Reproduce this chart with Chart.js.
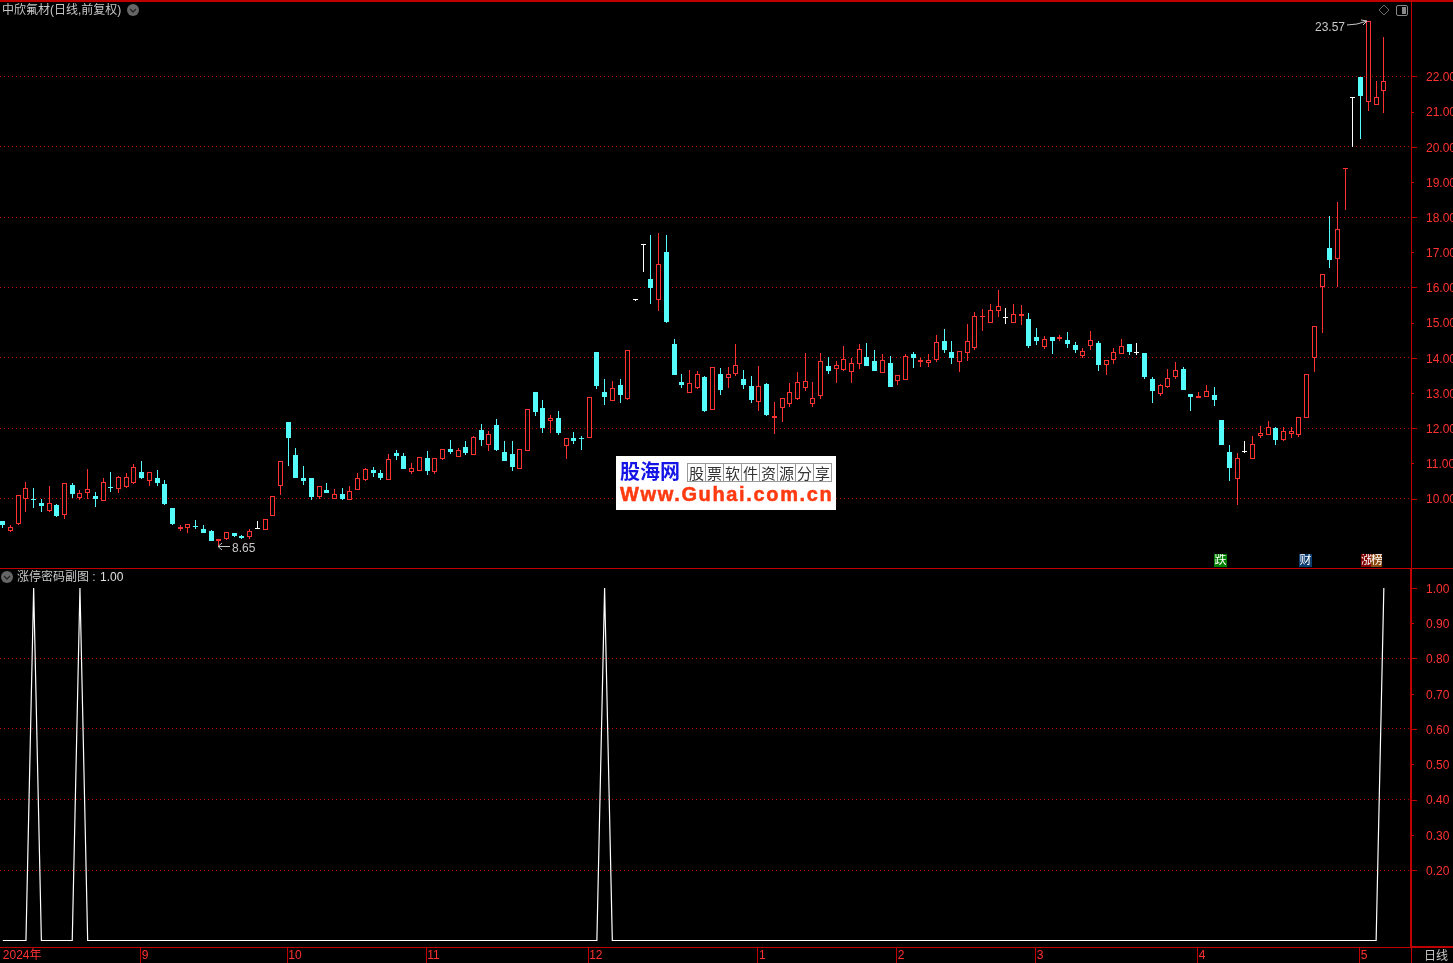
<!DOCTYPE html>
<html lang="zh">
<head>
<meta charset="UTF-8" />
<title>中欣氟材</title>
<script src="https://cdn.jsdelivr.net/npm/chart.js"></script>
<style>
  html, body { margin: 0; background: #000; overflow: hidden; }
  body { width: 1453px; height: 963px; position: relative; font: 12px "Liberation Sans", "Noto Sans CJK SC", sans-serif; color: #c8c8c8; }
  canvas { position: absolute; left: 0; }
  #priceChart { top: 0; }
  #subChart { top: 568px; }
  .line { position: absolute; background: #c00000; }
  .txt { position: absolute; white-space: nowrap; line-height: 14px; }
  .tag { position: absolute; top: 554px; height: 13px; line-height: 13px; width: 13px; font-size: 12px; text-align: center; color: #fff; overflow: hidden; }
  #logo { position: absolute; left: 616px; top: 456px; width: 220px; height: 54px; background: #fff; overflow: hidden; }
  #logo b { position: absolute; white-space: nowrap; }
  #logoName { left: 4px; top: 3px; font: bold 20px/24px "Noto Sans CJK SC"; color: #1414e6; }
  #logoSite { left: 4px; top: 26px; font: bold 20px/24px "Liberation Sans"; letter-spacing: 1.65px; color: #ff3a10; -webkit-text-stroke: 0.5px #ff3a10; }
  #logoCells { position: absolute; left: 71px; top: 7px; border-left: 1px solid #999; display: flex; }
  #logoCells span { width: 17px; height: 17px; line-height: 17px; border: 1px solid #999; border-left: 0; text-align: center; font: 15px/17px "Noto Sans CJK SC"; color: #333; }
</style>
</head>
<body>
<canvas id="priceChart" width="1453" height="568"></canvas>
<canvas id="subChart" width="1453" height="395"></canvas>

<!-- 框线 -->
<div class="line" style="left:0;top:0;width:1453px;height:2px"></div>
<div class="line" style="left:0;top:568px;width:1453px;height:1px"></div>
<div class="line" style="left:1411px;top:947px;width:1px;height:16px"></div>
<div class="line" style="left:1411px;top:946px;width:42px;height:2px"></div>

<!-- 标题 -->
<div class="txt" style="left:2px;top:3px">中欣氟材(日线,前复权)</div>
<div class="txt" style="left:17px;top:570px">涨停密码副图 : <span style="color:#e0e0e0;margin-left:1px">1.00</span></div>
<div class="txt" style="left:1424px;top:949px">日线</div>
<div class="txt" style="left:1315px;top:20px">23.57</div>
<div class="txt" style="left:232px;top:541px">8.65</div>

<!-- 小图标和箭头 -->
<svg width="1453" height="963" style="position:absolute;left:0;top:0">
  <circle cx="133" cy="10" r="6" fill="#666" />
  <path d="M130 9 L133 12 L136 9" stroke="#222" stroke-width="1.3" fill="none" />
  <circle cx="7" cy="577" r="6" fill="#666" />
  <path d="M4 576 L7 579 L10 576" stroke="#222" stroke-width="1.3" fill="none" />
  <path d="M1384 5 L1389 10 L1384 15 L1379 10 Z" stroke="#666" fill="none" />
  <rect x="1396.5" y="5.5" width="11" height="10" rx="1.5" stroke="#888" fill="none" />
  <rect x="1402" y="7" width="4" height="7" fill="#888" />
  <path d="M1347 25 L1357 24 L1367 21 M1361 20 L1367 21 L1363 25" stroke="#c8c8c8" fill="none" />
  <path d="M230 546.5 L218 546.5 M222 543 L218 546.5 L222 550" stroke="#c8c8c8" fill="none" />
</svg>

<!-- 信息标记 -->
<div class="tag" style="left:1214px;background:#008000">跌</div>
<div class="tag" style="left:1299px;background:#0c3c70">财</div>
<div class="tag" style="left:1361px;width:10px;background:#800000">涨</div>
<div class="tag" style="left:1371px;width:11px;background:#8a4a10">榜</div>

<!-- 水印 -->
<div id="logo">
  <b id="logoName">股海网</b>
  <div id="logoCells"><span>股</span><span>票</span><span>软</span><span>件</span><span>资</span><span>源</span><span>分</span><span>享</span></div>
  <b id="logoSite">Www.Guhai.com.cn</b>
</div>

<script>
  // 日K数据
  const opens = [
    9.36, 9.09, 9.28, 10.00, 9.99, 9.87, 9.65, 9.81, 9.53, 10.38,
    10.01, 10.17, 10.07, 9.94, 10.33, 10.28, 10.33, 10.45, 10.75, 10.50,
    10.58, 10.41, 9.73, 9.13, 9.17, 9.22, 9.13, 9.08, 8.79, 8.85,
    9.01, 8.93, 8.90, 9.14, 9.11, 9.51, 10.36, 12.17, 11.24, 10.58,
    10.58, 10.04, 10.24, 10.00, 10.13, 9.96, 10.25, 10.52, 10.81, 10.72,
    10.53, 11.29, 11.21, 10.75, 10.79, 11.15, 10.75, 11.12, 11.41, 11.18,
    11.46, 11.24, 11.95, 11.52, 12.09, 11.32, 11.26, 10.84, 11.35, 13.03,
    12.57, 12.20, 12.29, 11.49, 11.72, 11.72, 11.73, 14.16, 13.03, 12.78,
    13.23, 12.84, 15.63, 17.20, 16.23, 15.65, 17.01, 14.39, 13.31, 13.01,
    13.15, 13.45, 12.53, 13.54, 13.44, 13.55, 13.40, 13.20, 12.75, 13.25,
    12.30, 12.58, 12.70, 12.83, 13.15, 12.70, 12.92, 13.77, 13.69, 13.65,
    13.60, 13.83, 14.02, 13.91, 13.58, 13.85, 13.34, 13.37, 14.11, 13.88,
    13.85, 13.94, 14.48, 14.17, 13.88, 14.14, 14.28, 15.16, 14.99, 15.34,
    15.12, 14.99, 15.20, 15.10, 14.59, 14.31, 14.59, 14.53, 14.51, 14.36,
    14.05, 14.34, 14.42, 13.81, 13.95, 14.12, 14.39, 14.13, 14.14, 13.40,
    12.97, 13.17, 13.45, 13.68, 12.97, 12.87, 12.89, 12.94, 12.23, 11.32,
    10.55, 11.31, 11.13, 11.79, 11.81, 12.00, 11.66, 11.84, 11.81, 12.30,
    13.99, 16.00, 17.12, 16.80, 19.36, 21.38, 21.98, 21.26, 21.19, 21.59
  ];
  const highs = [
    9.36, 9.25, 10.09, 10.47, 10.30, 9.99, 10.35, 9.84, 10.43, 10.44,
    10.24, 10.84, 10.18, 10.58, 10.75, 10.63, 10.72, 10.98, 11.07, 10.75,
    10.81, 10.53, 9.73, 9.25, 9.27, 9.39, 9.25, 9.10, 8.84, 9.04,
    9.01, 8.96, 9.13, 9.36, 9.41, 10.06, 11.06, 12.17, 11.44, 10.92,
    10.58, 10.35, 10.44, 10.27, 10.30, 10.35, 10.72, 10.86, 10.90, 10.81,
    11.26, 11.38, 11.29, 11.01, 11.18, 11.35, 11.15, 11.40, 11.66, 11.44,
    11.63, 11.78, 12.12, 11.92, 12.26, 11.63, 11.63, 11.41, 12.54, 13.03,
    12.80, 12.37, 12.49, 11.71, 11.89, 11.78, 12.88, 14.16, 13.40, 13.34,
    13.40, 14.21, 15.63, 17.20, 17.49, 17.55, 17.49, 14.53, 13.54, 13.65,
    13.62, 13.48, 13.73, 13.71, 13.74, 14.39, 13.65, 13.48, 13.77, 13.28,
    12.74, 12.85, 13.28, 13.60, 14.14, 13.31, 14.14, 14.02, 13.91, 14.34,
    13.99, 14.39, 14.42, 14.22, 14.11, 14.05, 13.51, 14.11, 14.17, 13.99,
    14.11, 14.65, 14.82, 14.48, 14.19, 14.96, 15.30, 15.39, 15.53, 15.93,
    15.42, 15.53, 15.50, 15.27, 14.85, 14.62, 14.59, 14.65, 14.73, 14.45,
    14.28, 14.76, 14.48, 13.93, 14.28, 14.53, 14.39, 14.42, 14.14, 13.45,
    13.26, 13.68, 13.88, 13.74, 12.97, 13.03, 13.23, 13.17, 12.23, 11.52,
    11.29, 11.63, 11.78, 12.06, 12.20, 12.03, 12.03, 12.03, 12.31, 13.53,
    14.90, 16.37, 18.03, 18.43, 19.41, 21.38, 21.98, 23.57, 21.87, 23.12
  ];
  const lows = [
    9.16, 9.05, 9.26, 9.62, 9.73, 9.62, 9.62, 9.47, 9.42, 10.01,
    9.96, 9.99, 9.76, 9.94, 10.18, 10.16, 10.30, 10.41, 10.55, 10.35,
    10.35, 9.81, 9.25, 9.08, 9.02, 9.13, 9.02, 8.79, 8.65, 8.82,
    8.90, 8.85, 8.85, 9.13, 9.11, 9.51, 10.10, 10.92, 10.58, 10.38,
    9.95, 9.99, 10.16, 10.00, 9.96, 9.96, 10.25, 10.50, 10.61, 10.52,
    10.53, 11.09, 10.84, 10.70, 10.79, 10.67, 10.70, 11.09, 11.26, 11.18,
    11.24, 11.24, 11.49, 11.35, 11.35, 11.07, 10.78, 10.84, 11.35, 12.35,
    11.86, 11.86, 11.80, 11.12, 11.55, 11.38, 11.73, 13.11, 12.66, 12.78,
    12.72, 12.81, 15.63, 16.44, 15.53, 15.33, 14.99, 13.51, 13.14, 13.01,
    13.11, 12.46, 12.53, 12.94, 13.14, 13.48, 13.11, 12.72, 12.49, 12.35,
    11.83, 12.18, 12.60, 12.80, 13.06, 12.60, 12.83, 13.54, 13.28, 13.62,
    13.28, 13.68, 13.77, 13.63, 13.58, 13.17, 13.23, 13.37, 13.71, 13.74,
    13.74, 13.88, 14.14, 13.82, 13.60, 13.91, 14.22, 14.76, 14.99, 15.16,
    14.96, 14.99, 14.93, 14.28, 14.36, 14.25, 14.11, 14.48, 14.28, 14.14,
    13.99, 14.22, 13.63, 13.51, 13.82, 14.12, 14.08, 14.08, 13.40, 12.72,
    12.91, 13.14, 13.40, 13.08, 12.49, 12.87, 12.89, 12.63, 11.52, 10.50,
    9.81, 11.29, 11.13, 11.72, 11.81, 11.52, 11.63, 11.72, 11.75, 12.30,
    13.60, 14.71, 16.55, 16.00, 18.20, 19.99, 20.22, 21.02, 21.19, 20.96
  ];
  const closes = [
    9.25, 9.18, 10.09, 10.29, 9.96, 9.79, 9.86, 9.50, 10.43, 10.13,
    10.17, 10.26, 9.99, 10.46, 10.30, 10.60, 10.60, 10.89, 10.58, 10.74,
    10.44, 9.84, 9.27, 9.19, 9.27, 9.19, 9.02, 8.79, 8.84, 9.04,
    8.93, 8.88, 9.09, 9.14, 9.41, 10.06, 11.06, 11.73, 10.58, 10.50,
    10.04, 10.35, 10.16, 10.13, 9.99, 10.20, 10.57, 10.83, 10.72, 10.58,
    11.12, 11.21, 10.84, 10.87, 11.18, 10.78, 11.15, 11.40, 11.32, 11.38,
    11.29, 11.75, 11.66, 11.83, 11.38, 11.07, 10.90, 11.41, 12.54, 12.46,
    12.00, 12.29, 11.86, 11.71, 11.63, 11.69, 12.88, 13.20, 12.89, 13.13,
    12.94, 14.21, 15.63, 17.20, 15.98, 16.66, 15.02, 13.51, 13.23, 13.27,
    13.53, 12.49, 13.73, 13.08, 13.53, 13.81, 13.23, 12.80, 13.19, 12.37,
    12.36, 12.85, 13.02, 13.30, 13.33, 12.85, 13.90, 13.63, 13.81, 13.98,
    13.84, 14.24, 13.77, 13.63, 13.94, 13.17, 13.51, 14.05, 13.99, 13.94,
    13.94, 14.45, 14.22, 13.99, 14.19, 14.48, 15.19, 15.18, 15.35, 15.46,
    15.12, 15.26, 15.26, 14.34, 14.48, 14.53, 14.48, 14.59, 14.39, 14.22,
    14.18, 14.50, 13.80, 13.93, 14.16, 14.33, 14.17, 14.13, 13.45, 13.06,
    13.22, 13.44, 13.64, 13.08, 12.89, 12.91, 13.07, 12.80, 11.52, 10.87,
    11.14, 11.31, 11.54, 11.85, 12.02, 11.66, 11.91, 11.91, 12.31, 13.53,
    14.90, 16.37, 16.79, 17.65, 19.41, 21.38, 21.44, 23.57, 21.43, 21.86
  ];

  // 副图信号
  const signal = [
    0, 0, 0, 0, 1, 0, 0, 0, 0, 0,
    1, 0, 0, 0, 0, 0, 0, 0, 0, 0,
    0, 0, 0, 0, 0, 0, 0, 0, 0, 0,
    0, 0, 0, 0, 0, 0, 0, 0, 0, 0,
    0, 0, 0, 0, 0, 0, 0, 0, 0, 0,
    0, 0, 0, 0, 0, 0, 0, 0, 0, 0,
    0, 0, 0, 0, 0, 0, 0, 0, 0, 0,
    0, 0, 0, 0, 0, 0, 0, 0, 1, 0,
    0, 0, 0, 0, 0, 0, 0, 0, 0, 0,
    0, 0, 0, 0, 0, 0, 0, 0, 0, 0,
    0, 0, 0, 0, 0, 0, 0, 0, 0, 0,
    0, 0, 0, 0, 0, 0, 0, 0, 0, 0,
    0, 0, 0, 0, 0, 0, 0, 0, 0, 0,
    0, 0, 0, 0, 0, 0, 0, 0, 0, 0,
    0, 0, 0, 0, 0, 0, 0, 0, 0, 0,
    0, 0, 0, 0, 0, 0, 0, 0, 0, 0,
    0, 0, 0, 0, 0, 0, 0, 0, 0, 0,
    0, 0, 0, 0, 0, 0, 0, 0, 0, 1
  ];

  // 坐标刻度
  const priceTicks = [10, 11, 12, 13, 14, 15, 16, 17, 18, 19, 20, 21, 22];
  const subTicks = [0.2, 0.3, 0.4, 0.5, 0.6, 0.7, 0.8, 0.9, 1.0];
  const subGridTicks = [0.2, 0.4, 0.6, 0.8];
  const monthIndex = [0, 18, 37, 55, 76, 98, 116, 134, 155, 176];
  const monthLabels = ['2024年', '9', '10', '11', '12', '1', '2', '3', '4', '5'];

  const RED = '#ff3232';
  const CYAN = '#54fcfc';
  const AXIS = '#c00000';
  const FONT = '"Liberation Sans", "Noto Sans CJK SC", sans-serif';
  const X_MIN = -0.363;
  const X_MAX = 182.52;

  function candleColor(i) {
    if (closes[i] > opens[i]) return RED;
    if (closes[i] < opens[i]) return CYAN;
    return '#ffffff';
  }
  const colors = opens.map((o, i) => candleColor(i));

  // 把柱子对齐到整像素
  const snapBars = {
    id: 'snapBars',
    afterDatasetsUpdate(chart) {
      chart.data.datasets.forEach((ds, d) => {
        if (ds.type === 'line') return;
        chart.getDatasetMeta(d).data.forEach(el => {
          el.x = Math.floor(el.x) + 0.5;
          el.y = Math.round(el.y);
          el.base = Math.round(el.base);
          if (el.base === el.y) el.base = el.y + 1;
        });
      });
    }
  };

  // 右侧长短刻度
  const axisMarks = {
    id: 'axisMarks',
    afterDraw(chart) {
      const s = chart.scales.y;
      const c = chart.ctx;
      c.save();
      c.fillStyle = AXIS;
      s.ticks.forEach((t, i) => {
        c.fillRect(s.left + 1, Math.round(s.getPixelForValue(t.value)), i % 2 ? 2 : 5, 1);
      });
      c.restore();
    }
  };

  function yAxis(min, max, values, gridOn, digits, borderWidth) {
    return {
      type: 'linear',
      position: 'right',
      min: min,
      max: max,
      bounds: 'data',
      afterBuildTicks(s) { s.ticks = values.map(v => ({ value: v })); },
      afterFit(s) { s.width = 42; s.paddingTop = 0; s.paddingBottom = 0; },
      border: { display: true, color: AXIS, width: borderWidth, dash: [1, 3] },
      grid: {
        drawTicks: false,
        lineWidth: 1,
        color: c => (c.tick && gridOn(c.tick.value)) ? '#c00000' : 'transparent'
      },
      ticks: {
        autoSkip: false,
        padding: 15,
        labelOffset: 1.5,
        color: RED,
        font: { family: FONT, size: 12 },
        callback: v => v.toFixed(digits)
      }
    };
  }

  new Chart(document.getElementById('priceChart'), {
    type: 'bar',
    data: {
      datasets: [
        {
          data: lows.map((l, i) => ({ x: i, y: [l, highs[i]] })),
          backgroundColor: colors,
          barThickness: 1,
          grouped: false,
          inflateAmount: 0,
          order: 2
        },
        {
          data: opens.map((o, i) => ({ x: i, y: [o, closes[i]] })),
          backgroundColor: colors.map(c => (c === RED ? '#000000' : c)),
          borderColor: colors,
          borderWidth: 1,
          borderSkipped: false,
          barThickness: 5,
          minBarLength: 1,
          grouped: false,
          inflateAmount: 0,
          order: 1
        }
      ]
    },
    options: {
      responsive: false,
      animation: false,
      layout: { padding: 0 },
      plugins: { legend: { display: false }, tooltip: { enabled: false } },
      scales: {
        x: { type: 'linear', display: false, offset: false, min: X_MIN, max: X_MAX, grid: { offset: false } },
        y: yAxis(8.024, 24.174, priceTicks, v => v % 2 === 0, 2, 1)
      }
    },
    plugins: [snapBars, axisMarks]
  });

  new Chart(document.getElementById('subChart'), {
    type: 'line',
    data: {
      datasets: [{
        type: 'line',
        data: signal.map((v, i) => ({ x: i, y: v })),
        borderColor: '#ffffff',
        borderWidth: 1.2,
        pointRadius: 0,
        tension: 0
      }]
    },
    options: {
      responsive: false,
      animation: false,
      layout: { padding: 0 },
      plugins: { legend: { display: false }, tooltip: { enabled: false } },
      scales: {
        x: {
          type: 'linear',
          position: 'bottom',
          offset: false,
          min: X_MIN,
          max: X_MAX,
          bounds: 'data',
          afterBuildTicks(s) { s.ticks = monthIndex.map(v => ({ value: v - 0.13 })); },
          afterFit(s) { s.height = 16; s.paddingLeft = 0; s.paddingRight = 0; },
          border: { display: true, color: AXIS, width: 1 },
          grid: {
            drawOnChartArea: false,
            tickLength: 16,
            tickColor: c => (c.index === 0 ? 'transparent' : AXIS)
          },
          ticks: {
            autoSkip: false,
            maxRotation: 0,
            align: 'start',
            labelOffset: 1,
            padding: -15,
            color: RED,
            font: { family: FONT, size: 12 },
            callback: (v, i) => monthLabels[i]
          }
        },
        y: yAxis(-0.0184, 1.0567, subTicks, v => subGridTicks.some(g => Math.abs(g - v) < 0.001), 2, 2)
      }
    },
    plugins: [axisMarks]
  });
</script>
</body>
</html>
